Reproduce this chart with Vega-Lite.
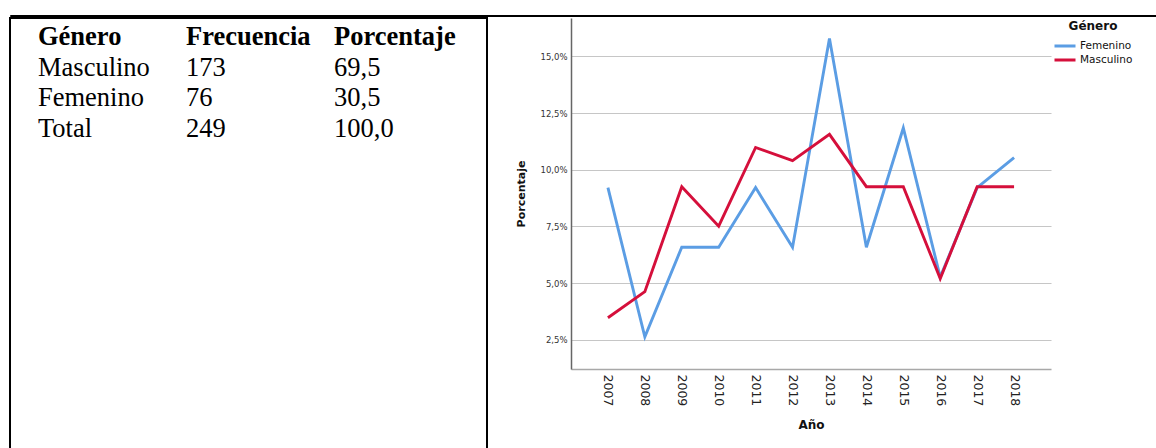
{
  "$schema": "https://vega.github.io/schema/vega-lite/v6.json",
  "padding": {"left": 9, "top": 14, "right": 0, "bottom": 0},
  "background": "white",
  "config": {"view": {"stroke": null}, "font": "DejaVu Sans"},
  "datasets": {
    "tabla": [
      {"fila": "Género", "columna": "Género", "texto": "Género"},
      {"fila": "Género", "columna": "Frecuencia", "texto": "Frecuencia"},
      {"fila": "Género", "columna": "Porcentaje", "texto": "Porcentaje"},
      {"fila": "Masculino", "columna": "Género", "texto": "Masculino"},
      {"fila": "Masculino", "columna": "Frecuencia", "texto": "173"},
      {"fila": "Masculino", "columna": "Porcentaje", "texto": "69,5"},
      {"fila": "Femenino", "columna": "Género", "texto": "Femenino"},
      {"fila": "Femenino", "columna": "Frecuencia", "texto": "76"},
      {"fila": "Femenino", "columna": "Porcentaje", "texto": "30,5"},
      {"fila": "Total", "columna": "Género", "texto": "Total"},
      {"fila": "Total", "columna": "Frecuencia", "texto": "249"},
      {"fila": "Total", "columna": "Porcentaje", "texto": "100,0"}
    ],
    "serie": [
      {"Año": "2007", "Género": "Femenino", "Porcentaje": 9.21},
      {"Año": "2008", "Género": "Femenino", "Porcentaje": 2.63},
      {"Año": "2009", "Género": "Femenino", "Porcentaje": 6.58},
      {"Año": "2010", "Género": "Femenino", "Porcentaje": 6.58},
      {"Año": "2011", "Género": "Femenino", "Porcentaje": 9.21},
      {"Año": "2012", "Género": "Femenino", "Porcentaje": 6.58},
      {"Año": "2013", "Género": "Femenino", "Porcentaje": 15.79},
      {"Año": "2014", "Género": "Femenino", "Porcentaje": 6.58},
      {"Año": "2015", "Género": "Femenino", "Porcentaje": 11.84},
      {"Año": "2016", "Género": "Femenino", "Porcentaje": 5.26},
      {"Año": "2017", "Género": "Femenino", "Porcentaje": 9.21},
      {"Año": "2018", "Género": "Femenino", "Porcentaje": 10.53},
      {"Año": "2007", "Género": "Masculino", "Porcentaje": 3.47},
      {"Año": "2008", "Género": "Masculino", "Porcentaje": 4.62},
      {"Año": "2009", "Género": "Masculino", "Porcentaje": 9.25},
      {"Año": "2010", "Género": "Masculino", "Porcentaje": 7.51},
      {"Año": "2011", "Género": "Masculino", "Porcentaje": 10.98},
      {"Año": "2012", "Género": "Masculino", "Porcentaje": 10.40},
      {"Año": "2013", "Género": "Masculino", "Porcentaje": 11.56},
      {"Año": "2014", "Género": "Masculino", "Porcentaje": 9.25},
      {"Año": "2015", "Género": "Masculino", "Porcentaje": 9.25},
      {"Año": "2016", "Género": "Masculino", "Porcentaje": 5.20},
      {"Año": "2017", "Género": "Masculino", "Porcentaje": 9.25},
      {"Año": "2018", "Género": "Masculino", "Porcentaje": 9.25}
    ]
  },
  "spacing": 0,
  "vconcat": [
    {
      "width": 1146,
      "height": 1,
      "data": {"values": []},
      "mark": "point",
      "view": {"stroke": "black", "strokeWidth": 1}
    },
    {
      "spacing": 27,
      "hconcat": [
        {
          "width": 477,
          "height": 450,
          "view": {"stroke": "black", "strokeWidth": 2},
          "data": {"name": "tabla"},
          "encoding": {
            "x": {"field": "columna", "type": "nominal", "axis": null,
                  "scale": {"type": "point", "domain": ["Género", "Frecuencia", "Porcentaje"], "range": [28, 324], "padding": 0}},
            "y": {"field": "fila", "type": "nominal", "axis": null,
                  "scale": {"type": "point", "domain": ["Género", "Masculino", "Femenino", "Total"], "range": [27, 118.5], "padding": 0}},
            "text": {"field": "texto"}
          },
          "layer": [
            {
              "transform": [{"filter": "datum.fila === 'Género'"}],
              "mark": {"type": "text", "align": "left", "baseline": "alphabetic", "font": "Liberation Serif", "fontSize": 26.5, "fontWeight": "bold", "fill": "black"}
            },
            {
              "transform": [{"filter": "datum.fila !== 'Género'"}],
              "mark": {"type": "text", "align": "left", "baseline": "alphabetic", "font": "Liberation Serif", "fontSize": 26.5, "fontWeight": "normal", "fill": "black"}
            }
          ]
        },
        {
          "width": 480,
          "height": 351,
          "data": {"name": "serie"},
          "mark": {"type": "line", "strokeWidth": 2.9, "strokeJoin": "miter"},
          "encoding": {
            "x": {
              "field": "Año", "type": "ordinal",
              "scale": {"type": "point", "padding": 1.167},
              "axis": {
                "title": "Año", "labelAngle": 90, "labelAlign": "left", "labelBaseline": "middle",
                "labelFont": "DejaVu Sans", "labelFontSize": 12.5, "labelColor": "#222", "labelPadding": 5,
                "ticks": false, "domainColor": "#a8a8a8", "domainWidth": 1.5, "grid": false,
                "titleFont": "DejaVu Sans", "titleFontSize": 12, "titleFontWeight": "bold", "titleColor": "#111", "titlePadding": 14
              }
            },
            "y": {
              "field": "Porcentaje", "type": "quantitative",
              "scale": {"domain": [1.21, 16.69], "nice": false, "zero": false},
              "axis": {
                "values": [2.5, 5, 7.5, 10, 12.5, 15],
                "labelExpr": "replace(format(datum.value, '.1f'), '.', ',') + '%'",
                "grid": true, "gridColor": "#c6c6c6", "gridWidth": 1.2,
                "ticks": false, "labelPadding": 4, "labelFont": "DejaVu Sans", "labelFontSize": 8.5, "labelColor": "#333",
                "domainColor": "#666", "domainWidth": 1.5,
                "title": "Porcentaje", "titleFont": "DejaVu Sans", "titleFontSize": 11, "titleFontWeight": "bold", "titlePadding": 13, "titleColor": "#111"
              }
            },
            "color": {
              "field": "Género", "type": "nominal",
              "scale": {"domain": ["Femenino", "Masculino"], "range": ["#5b9de4", "#d50f3b"]},
              "legend": {
                "title": "Género", "orient": "none", "legendX": 1043, "legendY": 6, "padding": 0,
                "titleFont": "DejaVu Sans", "titleFontSize": 12, "titleFontWeight": "bold", "titleAnchor": "middle", "titlePadding": 6, "titleColor": "#111",
                "labelFont": "DejaVu Sans", "labelFontSize": 10.5, "labelOffset": 3, "labelColor": "#111",
                "symbolType": "stroke", "symbolSize": 441, "symbolStrokeWidth": 3,
                "clipHeight": 14, "rowPadding": 0
              }
            }
          }
        }
      ]
    }
  ]
}
